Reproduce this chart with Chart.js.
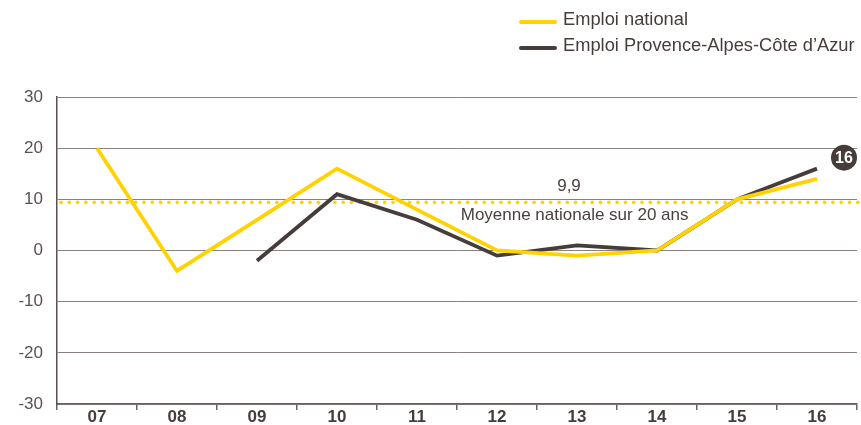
<!DOCTYPE html>
<html>
<head>
<meta charset="utf-8">
<script src="https://cdn.jsdelivr.net/npm/chart.js@4/dist/chart.umd.min.js"></script>
<style>
  html, body { margin: 0; padding: 0; background: #fff; }
  #wrap { position: relative; width: 861px; height: 425px; font-family: "Liberation Sans", Arial, sans-serif; }
  #legend { position: absolute; left: 519px; top: 6px; color: #463c3a; font-size: 18.3px; }
  .item { display: flex; align-items: center; height: 26px; }
  .swatch { width: 38px; height: 4px; border-radius: 2px; margin-right: 6px; margin-top: 6px; }
</style>
</head>
<body>
<div id="wrap">
  <canvas id="chart" width="861" height="425"></canvas>
  <div id="legend">
    <div class="item"><span class="swatch" style="background:#ffd200"></span>Emploi national</div>
    <div class="item"><span class="swatch" style="background:#463c3a"></span>Emploi Provence-Alpes-Côte d’Azur</div>
  </div>
</div>
<script>
'use strict';

const years    = ['07', '08', '09', '10', '11', '12', '13', '14', '15', '16'];
const national = [20, -4, 6, 16, 8, 0, -1, 0, 10, 14];
const paca     = [null, null, -2, 11, 6, -1, 1, 0, 10, 16];
const avgValue = 9.4;
const avgLabel = '9,9';
const avgText  = 'Moyenne nationale sur 20 ans';

const YELLOW = '#ffd200';
const DARK   = '#463c3a';

// ligne pointillée de la moyenne + pastille finale
const extras = {
  id: 'extras',
  beforeDatasetsDraw(chart) {
    const { ctx, chartArea, scales } = chart;
    const y = scales.y.getPixelForValue(avgValue);
    ctx.save();
    ctx.fillStyle = YELLOW;
    for (let x = chartArea.left + 4; x <= chart.width - 2; x += 8.3) {
      ctx.beginPath();
      ctx.arc(x, y, 1.8, 0, Math.PI * 2);
      ctx.fill();
    }
    ctx.fillStyle = '#4a4040';
    ctx.font = '17px "Liberation Sans", Arial, sans-serif';
    ctx.textAlign = 'center';
    ctx.textBaseline = 'middle';
    ctx.fillText(avgLabel, scales.x.getPixelForValue(5.9), y - 16);
    ctx.fillText(avgText, scales.x.getPixelForValue(5.97), y + 13);
    ctx.restore();
  },
  afterDatasetsDraw(chart) {
    const { ctx } = chart;
    const meta = chart.getDatasetMeta(1);
    const last = meta.data[meta.data.length - 1];
    const cx = last.x + 27, cy = last.y - 11;
    ctx.save();
    ctx.fillStyle = DARK;
    ctx.beginPath();
    ctx.arc(cx, cy, 13, 0, Math.PI * 2);
    ctx.fill();
    ctx.fillStyle = '#fff';
    ctx.font = 'bold 16px "Liberation Sans", Arial, sans-serif';
    ctx.textAlign = 'center';
    ctx.textBaseline = 'middle';
    ctx.fillText(years[years.length - 1], cx, cy + 1);
    ctx.restore();
  }
};

new Chart(document.getElementById('chart'), {
  type: 'line',
  data: {
    labels: years,
    datasets: [
      { label: 'Emploi national', data: national, borderColor: YELLOW, borderWidth: 3.8, pointRadius: 0, tension: 0 },
      { label: 'Emploi Provence-Alpes-Côte d’Azur', data: paca, borderColor: DARK, borderWidth: 3.8, pointRadius: 0, tension: 0 }
    ]
  },
  options: {
    responsive: false,
    animation: false,
    layout: { padding: { top: 97, right: 4, left: 0, bottom: 0 } },
    plugins: { legend: { display: false }, tooltip: { enabled: false } },
    scales: {
      x: {
        offset: true,
        grid: { offset: true, drawOnChartArea: false, color: '#6a6060', tickLength: 6, lineWidth: 1.5 },
        border: { color: '#6a6060', width: 1.5 },
        ticks: { color: DARK, font: { family: '"Liberation Sans", Arial', size: 17, weight: 'bold' }, padding: -3 },
        afterFit(scale) { scale.height = 21; }
      },
      y: {
        min: -30, max: 30,
        grid: { color: '#8a8080', lineWidth: 1, drawTicks: false },
        border: { color: '#5a5050', width: 1.5 },
        ticks: { stepSize: 10, color: '#5a5050', font: { family: '"Liberation Sans", Arial', size: 17 }, padding: 14 },
        afterFit(scale) { scale.width = 57; scale.paddingTop = 0; scale.paddingBottom = 0; }
      }
    }
  },
  plugins: [extras]
});
</script>
</body>
</html>
